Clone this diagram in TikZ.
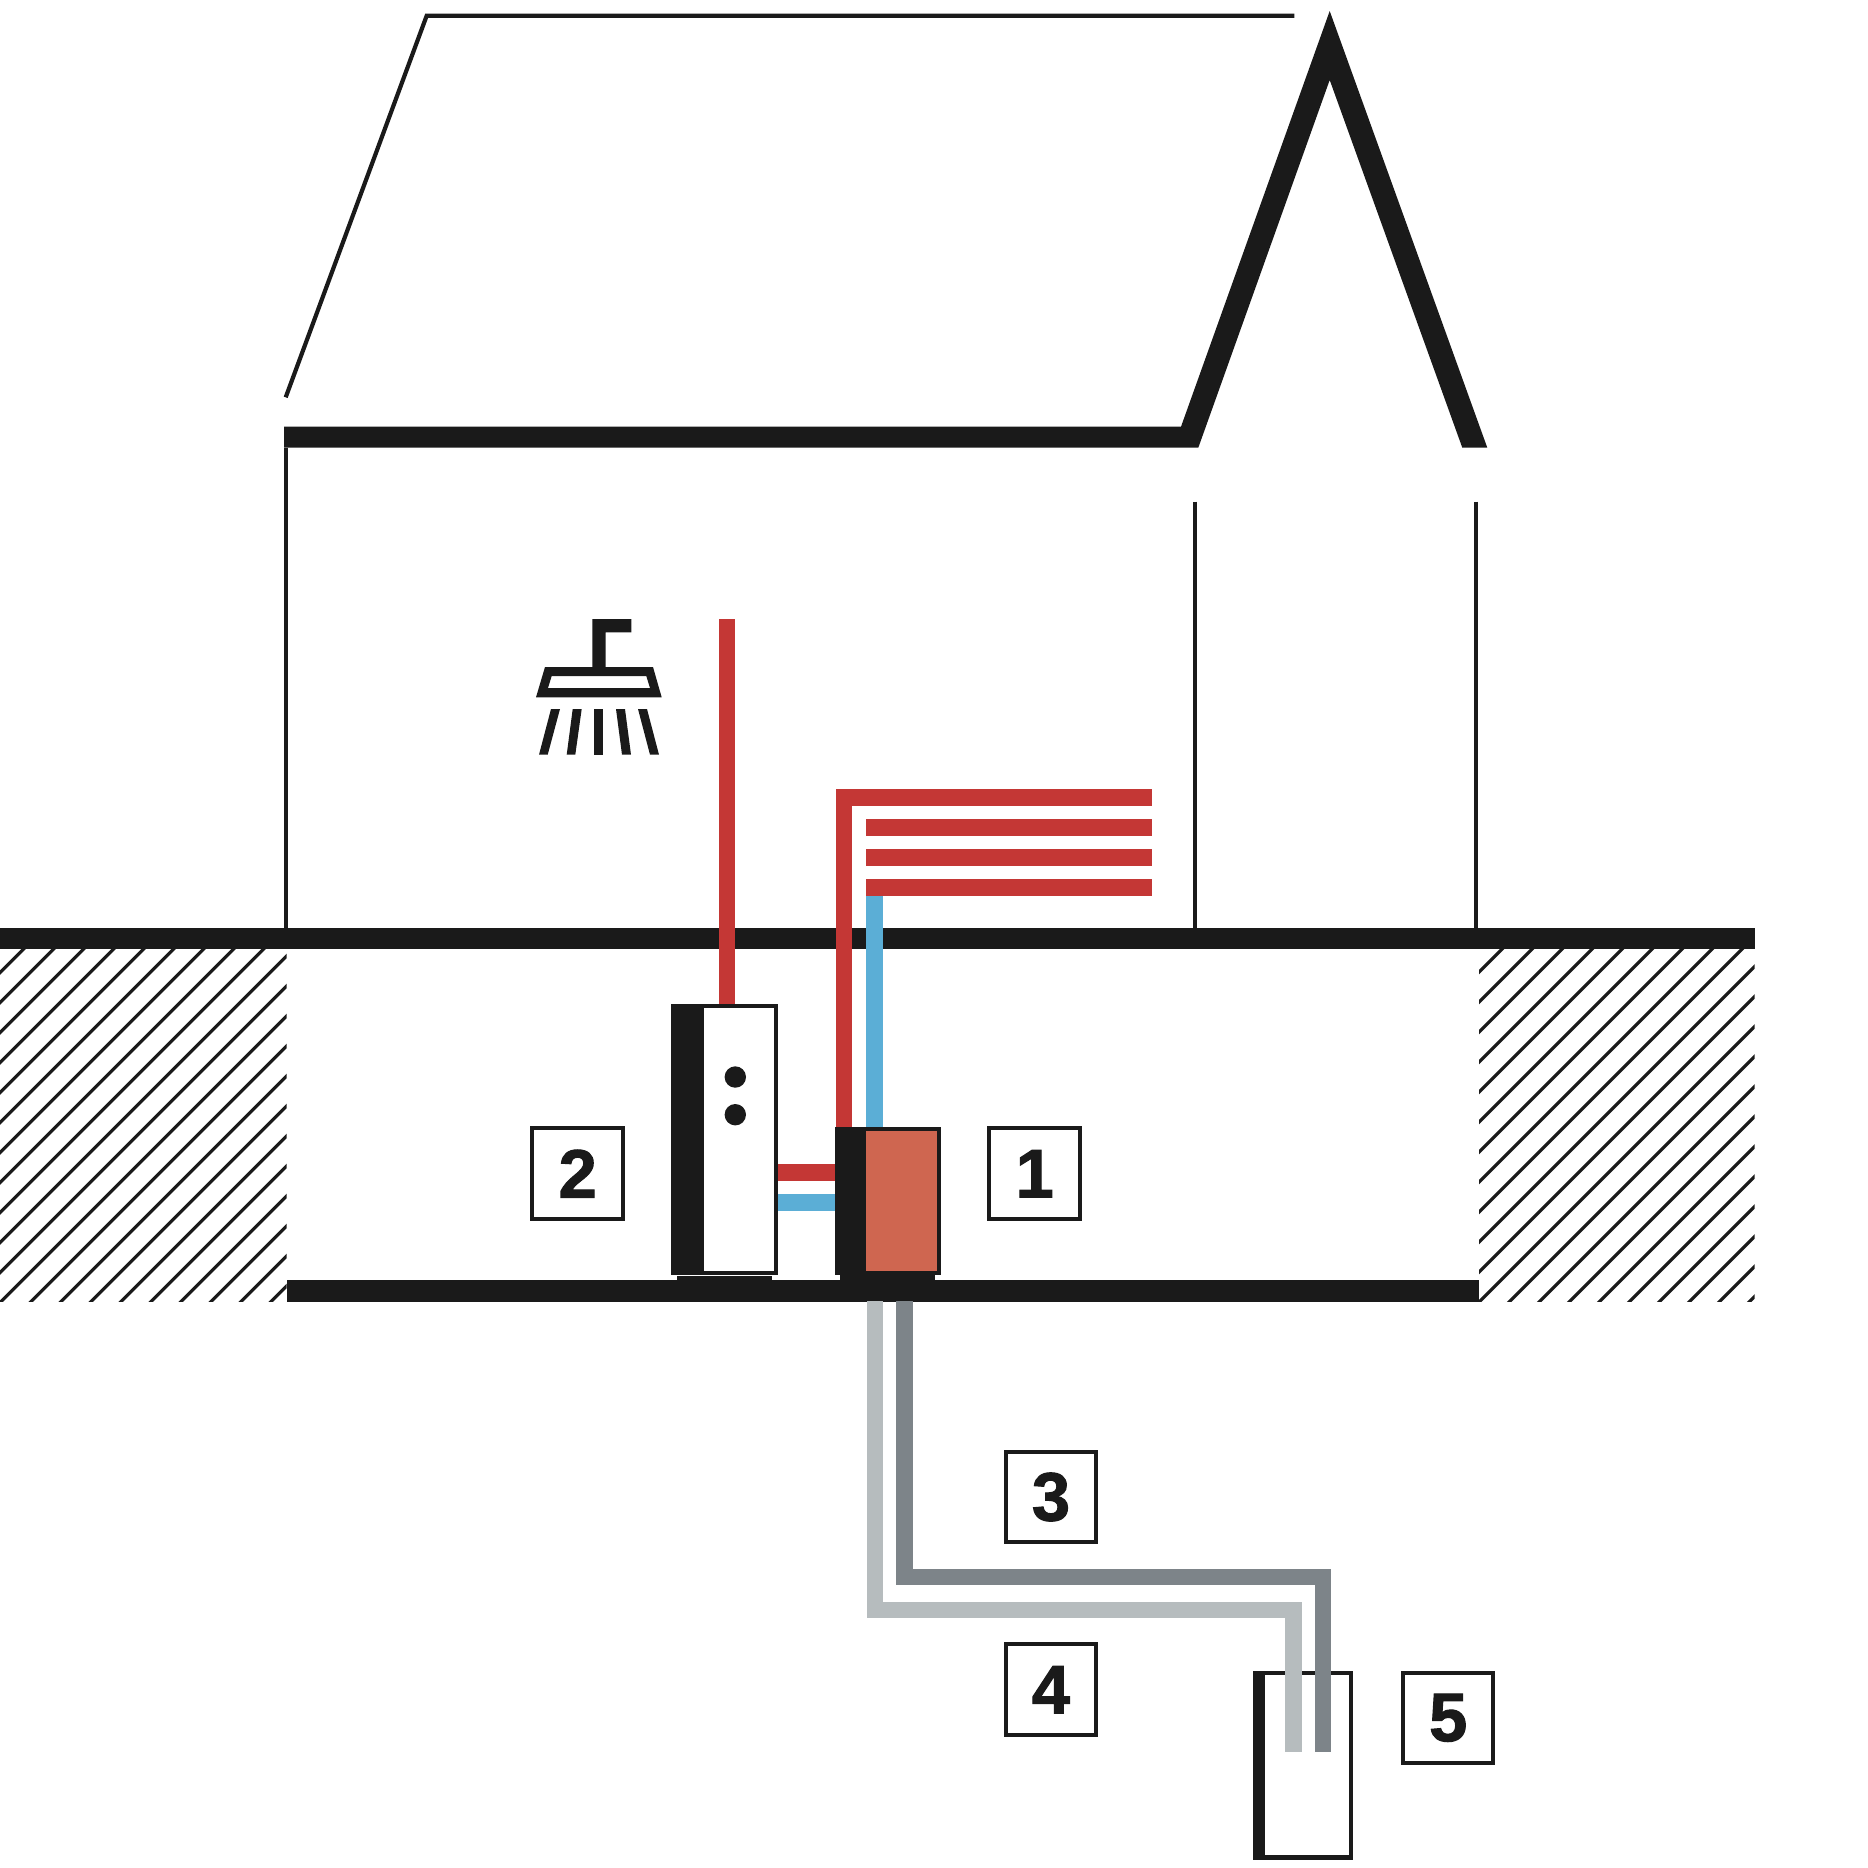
\documentclass[tikz,border=0pt]{standalone}
\usepackage{fontspec}
\setmainfont{Liberation Sans}[BoldFeatures={FakeBold=1.6}]
\usepackage{xcolor}
\definecolor{ink}{HTML}{1A1A1A}
\definecolor{hotred}{HTML}{C43735}
\definecolor{coldblue}{HTML}{5BAED6}
\definecolor{pumpcol}{HTML}{CF6650}
\definecolor{brinelight}{HTML}{B6BCBE}
\definecolor{brinedark}{HTML}{7D8489}
\tikzset{
  hotpipe/.style={draw=hotred, line width=1.66mm},
  coldpipe/.style={draw=coldblue, line width=1.66mm},
  lightpipe/.style={draw=brinelight, line width=1.66mm},
  darkpipe/.style={draw=brinedark, line width=1.66mm},
  hatchline/.style={draw=ink, line width=0.32mm},
  thinwall/.style={draw=ink, line width=0.42mm},
  numbox/.style={draw=ink, line width=0.4mm, fill=white, minimum size=9.05mm, inner sep=0pt,
    font=\fontsize{19.5}{20}\selectfont\bfseries, text=ink}
}

\begin{document}
\begin{tikzpicture}[x=0.1mm, y=-0.1mm]
  \useasboundingbox (0,0) rectangle (1868,1868);

  % hatched ground
  \begin{scope}
    \clip (0,949.3) rectangle (286.7,1301.7);
    \foreach \k in {0,...,20}
      \draw[hatchline] ({972.6+30*\k-900},900) -- ({972.6+30*\k-1350},1350);
  \end{scope}
  \begin{scope}
    \clip (1479,949.3) rectangle (1754.7,1301.7);
    \foreach \k in {0,...,20}
      \draw[hatchline] ({2451+30*\k-900},900) -- ({2451+30*\k-1350},1350);
  \end{scope}

  % walls and thin roof
  \draw[thinwall] (285.7,447.7) -- (285.7,928);
  \draw[thinwall] (1195,501.7) -- (1195,928);
  \draw[thinwall] (1476.3,501.7) -- (1476.3,928);
  \draw[thinwall] (285.7,397.3) -- (426.7,15.7) -- (1294.3,15.7);

  % thick roof and slabs
  \fill[ink] (284,426.7) -- (1181,426.7) -- (1329.7,11) -- (1487.3,447.7) -- (1462.3,447.7)
    -- (1329.7,80) -- (1198.3,447.7) -- (284,447.7) -- cycle;
  \fill[ink] (0,928) rectangle (1754.7,949.3);
  \fill[ink] (286.7,1280) rectangle (1479,1301.5);

  % shower
  \fill[ink] (592.3,667) -- (592.3,619) -- (631.3,619) -- (631.3,632.3) -- (605.7,632.3) -- (605.7,667) -- cycle;
  \fill[ink, even odd rule] (545,667) -- (653,667) -- (661.7,697.3) -- (536,697.3) -- cycle
    (551.7,676) -- (646.3,676) -- (650,688) -- (548,688) -- cycle;
  \fill[ink] (551,709) -- (560,709) -- (547.7,754.7) -- (539,754.7) -- cycle;
  \fill[ink] (572.7,709) -- (581.7,709) -- (575.3,754.7) -- (566.7,754.7) -- cycle;
  \fill[ink] (594.3,709) -- (603.3,709) -- (603.3,754.7) -- (594.3,754.7) -- cycle;
  \fill[ink] (616,709) -- (625,709) -- (631,754.7) -- (622,754.7) -- cycle;
  \fill[ink] (638,709) -- (647,709) -- (659,754.7) -- (650,754.7) -- cycle;

  % heating and hot water
  \coordinate (S) at (727,619);
  \coordinate (T) at (727,1004);
  \coordinate (H) at (844,1128);
  \coordinate (C) at (874.6,1128);
  \draw[hotpipe] (S) -- (T);
  \draw[hotpipe] (H) |- (1152.3,797.4);
  \foreach \y in {827.4,857.4,887.4}
    \draw[hotpipe] (866.3,\y) -- (1152.3,\y);
  \draw[coldpipe] (C) -- (874.6,895.7);
  \draw[hotpipe] (777,1172.2) -- (835,1172.2);
  \draw[coldpipe] (777,1202.2) -- (835,1202.2);

  % tank
  \fill[ink] (671.2,1004) rectangle (777.6,1275);
  \fill[white] (703.6,1008.3) rectangle (773.6,1271);
  \fill[ink] (676.7,1276) rectangle (772,1280);
  \fill[ink] (735.3,1077) circle (10.7);
  \fill[ink] (735.3,1114.7) circle (10.7);

  % heat pump
  \fill[ink] (834.5,1126.7) rectangle (940.5,1275);
  \fill[pumpcol] (866,1130.7) rectangle (937,1270.7);
  \fill[ink] (840,1275) rectangle (935,1280);

  % well
  \fill[ink] (1253.3,1671) rectangle (1353,1860);
  \fill[white] (1265,1675) rectangle (1349,1855.3);

  % ground loop
  \draw[lightpipe] (874.9,1301) |- (1293.4,1610) -- (1293.4,1751.7);
  \draw[darkpipe] (904.6,1301) |- (1323,1577) -- (1323,1751.7);

  % number boxes
  \node[numbox] (N1) at (1034.7,1173.7) {1};
  \node[numbox] (N2) at (577.7,1173.7) {2};
  \node[numbox] (N3) at (1051,1497) {3};
  \node[numbox] (N4) at (1051,1689.7) {4};
  \node[numbox] (N5) at (1448.2,1717.8) {5};
\end{tikzpicture}
\end{document}
